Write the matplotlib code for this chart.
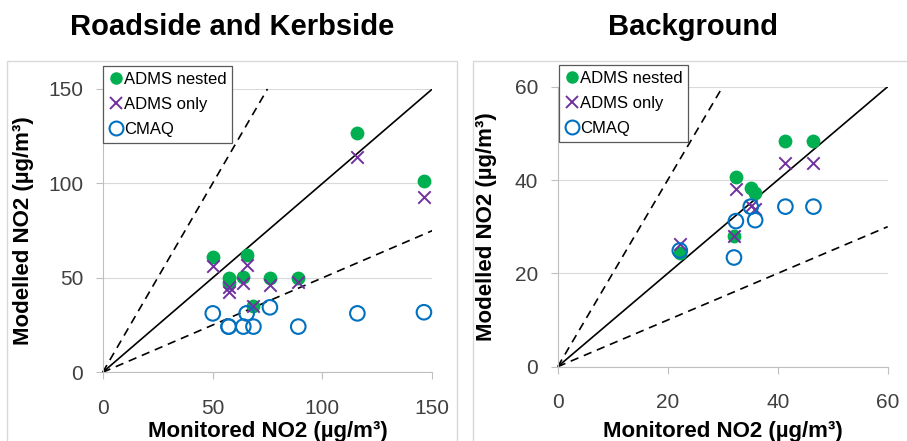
import matplotlib
matplotlib.use("Agg")
import matplotlib.pyplot as plt
import matplotlib.transforms as mtransforms
from matplotlib.patches import Rectangle
from matplotlib.lines import Line2D

plt.rcParams['font.family'] = ['Liberation Sans', 'DejaVu Sans']

# Roadside and Kerbside data
rk_monitored = [50.1, 57.3, 57.3, 64.0, 65.5, 68.6, 76.1, 89.0, 115.9, 146.2]
rk_adms_nested = [61.2, 49.8, 47.1, 50.3, 62.1, 35.3, 50.1, 49.8, 126.5, 101.4]
rk_adms_only = [56.3, 45.3, 42.3, 47.4, 56.8, 35.3, 46.2, 48.0, 114.1, 93.0]
rk_cmaq = [31.2, 24.2, 24.2, 24.2, 31.2, 24.2, 34.4, 24.2, 31.2, 31.8]

# Background data
bg_monitored = [22.2, 32.05, 32.4, 35.1, 35.9, 41.4, 46.5]
bg_adms_nested = [24.4, 28.1, 40.7, 38.2, 37.2, 48.4, 48.4]
bg_adms_only = [26.4, 28.1, 38.1, 34.5, 33.7, 43.7, 43.7]
bg_cmaq = [24.9, 23.4, 31.2, 34.3, 31.4, 34.3, 34.3]

titles = ["Roadside and Kerbside", "Background"]
xlabel = "Monitored NO2 (µg/m³)"
ylabel = "Modelled NO2 (µg/m³)"
series_names = ["ADMS nested", "ADMS only", "CMAQ"]
rk_ticks = [0, 50, 100, 150]
bg_ticks = [0, 20, 40, 60]

GREEN = "#00b050"
PURPLE = "#7030a0"
BLUE = "#0070c0"
W, H = 907, 441

fig = plt.figure(figsize=(W / 100, H / 100), dpi=100)

def fx(px):
    return px / W

def fy(py):
    return 1 - py / H

# panel frames
for (x0, x1) in [(7, 457), (472.5, 912)]:
    fig.patches.append(Rectangle((fx(x0), fy(445)), fx(x1 - x0), fy(61) - fy(445),
                                 transform=fig.transFigure, fill=False,
                                 edgecolor="#d9d9d9", linewidth=1.0, zorder=0))

panels = [
    dict(pos=(102.7, 432.3, 89.0, 372.3), mon=rk_monitored, nes=rk_adms_nested,
         only=rk_adms_only, cmaq=rk_cmaq, ticks=rk_ticks, title=titles[0],
         tcx=232, leg=(103, 66), ylab_x=34, xlab_y=432),
    dict(pos=(557.7, 887.7, 86.7, 366.7), mon=bg_monitored, nes=bg_adms_nested,
         only=bg_adms_only, cmaq=bg_cmaq, ticks=bg_ticks, title=titles[1],
         tcx=693, leg=(559, 65), ylab_x=497, xlab_y=431),
]

for p in panels:
    x0, x1, ytop, ybot = p["pos"]
    ax = fig.add_axes([fx(x0), fy(ybot), fx(x1 - x0), fy(ytop) - fy(ybot)])
    mx = p["ticks"][-1]
    ax.set_xlim(0, mx)
    ax.set_ylim(0, mx)
    ax.set_xticks(p["ticks"])
    ax.set_yticks(p["ticks"])
    ax.tick_params(axis="both", labelsize=15, colors="#404040", length=5,
                   width=0.8, direction="out", color="#bfbfbf")
    ax.tick_params(axis="x", pad=14)
    ax.tick_params(axis="y", pad=9)
    for s in ["top", "right"]:
        ax.spines[s].set_visible(False)
    for s in ["left", "bottom"]:
        ax.spines[s].set_color("#bfbfbf")
        ax.spines[s].set_linewidth(0.8)
    ax.grid(axis="y", color="#d9d9d9", linewidth=0.8)
    ax.set_axisbelow(True)

    ax.plot([0, mx], [0, mx], color="black", linewidth=1.2, zorder=2)
    ax.plot([0, mx / 2], [0, mx], color="black", linewidth=1.2,
            linestyle=(0, (5, 3.5)), zorder=2, clip_on=False)
    ax.plot([0, mx], [0, mx / 2], color="black", linewidth=1.2,
            linestyle=(0, (5, 3.5)), zorder=2)

    ax.scatter(p["mon"], p["nes"], s=80, color=GREEN, zorder=3, clip_on=False)
    ax.scatter(p["mon"], p["only"], s=80, marker="x", color=PURPLE,
               linewidths=1.4, zorder=4, clip_on=False)
    ax.scatter(p["mon"], p["cmaq"], s=110, facecolors="none", edgecolors=BLUE,
               linewidths=1.5, zorder=5, clip_on=False)

    ax.set_xlabel(xlabel, fontsize=16, fontweight="bold")
    ax.set_ylabel(ylabel, fontsize=16, fontweight="bold")
    ax.xaxis.set_label_coords(0.5, 0)
    ax.xaxis.label.set_transform(
        mtransforms.blended_transform_factory(ax.transAxes, fig.transFigure))
    ax.xaxis.label.set_position((0.5, fy(p["xlab_y"])))
    ax.xaxis.label.set_va("center")
    ax.yaxis.set_label_coords(0, 0.5)
    ax.yaxis.label.set_transform(
        mtransforms.blended_transform_factory(fig.transFigure, ax.transAxes))
    ax.yaxis.label.set_position((fx(p["ylab_x"]), 0.5))

    fig.text(fx(p["tcx"]), fy(27), p["title"], fontsize=21, fontweight="bold",
             ha="center", va="center")

    handles = [
        Line2D([], [], marker="o", linestyle="none", color=GREEN, markersize=8),
        Line2D([], [], marker="x", linestyle="none", color=PURPLE, markersize=9,
               markeredgewidth=1.4),
        Line2D([], [], marker="o", linestyle="none", markerfacecolor="none",
               markeredgecolor=BLUE, markersize=10, markeredgewidth=1.5),
    ]
    lx, ly = p["leg"]
    leg = ax.legend(handles, series_names, loc="upper left",
                    bbox_to_anchor=(fx(lx), fy(ly)), bbox_transform=fig.transFigure,
                    fontsize=12, frameon=True, fancybox=False, borderpad=0.35,
                    handlelength=0.9, handletextpad=0.0, labelspacing=0.6,
                    borderaxespad=0, framealpha=1)
    leg.get_frame().set_edgecolor("#595959")
    leg.get_frame().set_linewidth(0.9)
    leg.set_zorder(10)

fig.savefig("out.png", dpi=100)
